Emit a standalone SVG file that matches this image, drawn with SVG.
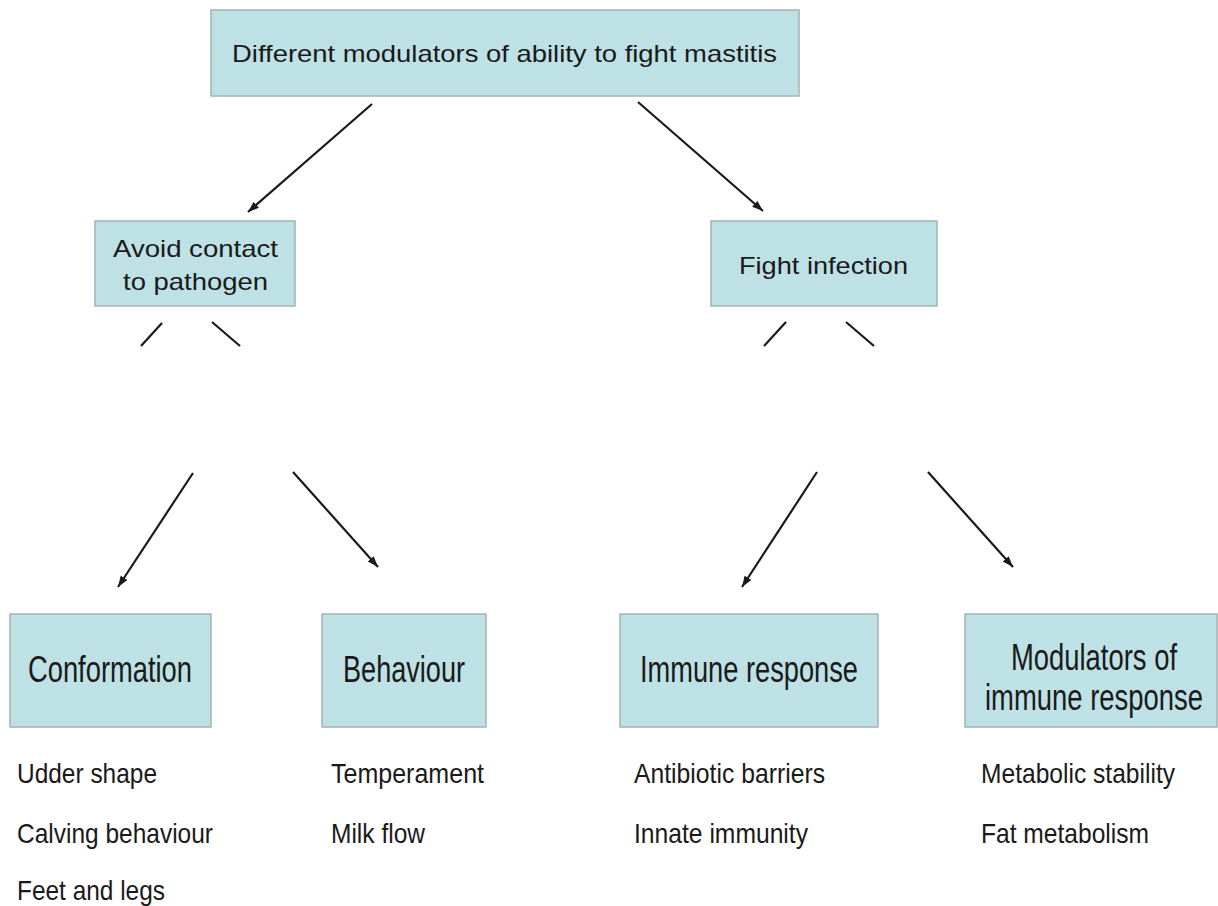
<svg xmlns="http://www.w3.org/2000/svg" width="1218" height="906" viewBox="0 0 1218 906">
<style>
.box{fill:#bde1e4;stroke:#a3b3b5;stroke-width:1.5}
.t{font-family:"Liberation Sans",Arial,sans-serif;fill:#1a1a1a}
.n{font-family:"Liberation Sans Narrow","Arial Narrow","Liberation Sans",Arial,sans-serif;fill:#1a1a1a}
.c{stroke:#1a1a1a;stroke-width:2.2;fill:none}
</style>
<defs>
<marker id="ah" markerUnits="userSpaceOnUse" markerWidth="14" markerHeight="12" refX="11" refY="5" orient="auto">
<path d="M0,1 L11,5 L0,9 Z" fill="#1a1a1a"/>
</marker>
</defs>
<rect width="1218" height="906" fill="#ffffff"/>
<g id="connectors">
<line class="c" x1="372" y1="104" x2="248" y2="212" marker-end="url(#ah)"/>
<line class="c" x1="638" y1="102" x2="763" y2="211" marker-end="url(#ah)"/>
<line class="c" x1="162" y1="323" x2="141" y2="346"/>
<line class="c" x1="212" y1="322" x2="240" y2="346"/>
<line class="c" x1="786" y1="322" x2="764" y2="346"/>
<line class="c" x1="846" y1="322" x2="874" y2="346"/>
<line class="c" x1="193" y1="473" x2="118" y2="587" marker-end="url(#ah)"/>
<line class="c" x1="293" y1="472" x2="378" y2="567" marker-end="url(#ah)"/>
<line class="c" x1="817" y1="472" x2="742" y2="587" marker-end="url(#ah)"/>
<line class="c" x1="928" y1="472" x2="1013" y2="567" marker-end="url(#ah)"/>
</g>
<g id="root">
<rect class="box" x="211" y="10" width="588" height="86"/>
<text class="t" x="232" y="62" font-size="24" textLength="545" lengthAdjust="spacingAndGlyphs">Different modulators of ability to fight mastitis</text>
</g>
<g id="avoid">
<rect class="box" x="95" y="221" width="200" height="85"/>
<text class="t" x="113" y="257" font-size="24" textLength="165" lengthAdjust="spacingAndGlyphs">Avoid contact</text>
<text class="t" x="123" y="290" font-size="24" textLength="145" lengthAdjust="spacingAndGlyphs">to pathogen</text>
</g>
<g id="fight">
<rect class="box" x="711" y="221" width="226" height="85"/>
<text class="t" x="739" y="274" font-size="24" textLength="169" lengthAdjust="spacingAndGlyphs">Fight infection</text>
</g>
<g id="conformation">
<rect class="box" x="10" y="614" width="201" height="113"/>
<text class="n" x="28" y="682" font-size="37" textLength="164" lengthAdjust="spacingAndGlyphs">Conformation</text>
</g>
<g id="behaviour">
<rect class="box" x="322" y="614" width="164" height="113"/>
<text class="n" x="343" y="682" font-size="37" textLength="122" lengthAdjust="spacingAndGlyphs">Behaviour</text>
</g>
<g id="immune">
<rect class="box" x="620" y="614" width="258" height="113"/>
<text class="n" x="640" y="682" font-size="37" textLength="218" lengthAdjust="spacingAndGlyphs">Immune response</text>
</g>
<g id="modulators">
<rect class="box" x="965" y="614" width="252" height="113"/>
<text class="n" x="1011" y="0" font-size="28" textLength="166" lengthAdjust="spacingAndGlyphs" transform="translate(0,670) scale(1,1.32)">Modulators of</text>
<text class="n" x="985" y="0" font-size="28" textLength="218" lengthAdjust="spacingAndGlyphs" transform="translate(0,710) scale(1,1.32)">immune response</text>
</g>
<g id="lists">
<text class="n" x="17" y="783" font-size="28" textLength="140" lengthAdjust="spacingAndGlyphs">Udder shape</text>
<text class="n" x="17" y="843" font-size="28" textLength="196" lengthAdjust="spacingAndGlyphs">Calving behaviour</text>
<text class="n" x="17" y="900" font-size="28" textLength="148" lengthAdjust="spacingAndGlyphs">Feet and legs</text>
<text class="n" x="331" y="783" font-size="28" textLength="153" lengthAdjust="spacingAndGlyphs">Temperament</text>
<text class="n" x="331" y="843" font-size="28" textLength="94" lengthAdjust="spacingAndGlyphs">Milk flow</text>
<text class="n" x="634" y="783" font-size="28" textLength="191" lengthAdjust="spacingAndGlyphs">Antibiotic barriers</text>
<text class="n" x="634" y="843" font-size="28" textLength="174" lengthAdjust="spacingAndGlyphs">Innate immunity</text>
<text class="n" x="981" y="783" font-size="28" textLength="194" lengthAdjust="spacingAndGlyphs">Metabolic stability</text>
<text class="n" x="981" y="843" font-size="28" textLength="168" lengthAdjust="spacingAndGlyphs">Fat metabolism</text>
</g>
</svg>
